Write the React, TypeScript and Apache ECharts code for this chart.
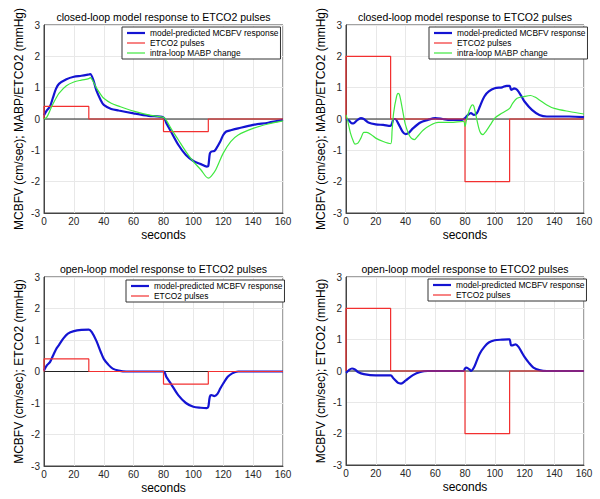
import React, { useEffect, useRef } from "react";
import * as echarts from "echarts";

const xTicks = [0, 20, 40, 60, 80, 100, 120, 140, 160];
const yTicks = [-3, -2, -1, 0, 1, 2, 3];

const titles = [
  "closed-loop model response to ETCO2 pulses",
  "closed-loop model response to ETCO2 pulses",
  "open-loop model response to ETCO2 pulses",
  "open-loop model response to ETCO2 pulses",
];
const yNames = [
  "MCBFV (cm/sec); MABP/ETCO2 (mmHg)",
  "MCBFV (cm/sec); MABP/ETCO2 (mmHg)",
  "MCBFV (cm/sec); ETCO2 (mmHg)",
  "MCBFV (cm/sec); ETCO2 (mmHg)",
];
const xName = "seconds";
const nameBlue = "model-predicted MCBFV response";
const nameRed = "ETCO2 pulses";
const nameGreen = "intra-loop MABP change";

// ETCO2 pulses
const pulseSmall: [number, number][] = [
  [0, 0], [0, 0.4], [30, 0.4], [30, 0], [80, 0], [80, -0.4], [110, -0.4], [110, 0], [160, 0],
];
const pulseLarge: [number, number][] = [
  [0, 0], [0, 2], [30, 2], [30, 0], [80, 0], [80, -2], [110, -2], [110, 0], [160, 0],
];
const zeroLine: [number, number][] = [[0, 0], [160, 0]];

// closed loop, small pulses: MCBFV
const closedSmallMcbfv: [number, number][] = [
  [0, 0.12], [2, 0.28], [4, 0.4], [6, 0.68], [8, 0.96], [10, 1.12], [15, 1.27], [20, 1.35],
  [25, 1.38], [30, 1.42], [31, 1.43], [33, 1.25], [35, 0.92], [38, 0.6], [40, 0.45],
  [45, 0.32], [50, 0.27], [60, 0.18], [70, 0.1], [80, 0.05], [82, -0.14], [85, -0.4],
  [90, -0.83], [95, -1.15], [100, -1.34], [105, -1.44], [109, -1.52], [110, -1.5],
  [111, -1.11], [112, -1.04], [114, -1.02], [115, -0.97], [118, -0.72], [120, -0.51],
  [122, -0.4], [125, -0.36], [130, -0.3], [140, -0.19], [150, -0.12], [160, -0.03],
];
// closed loop, small pulses: MABP
const closedSmallMabp: [number, number][] = [
  [0, 0], [2, 0.07], [5, 0.38], [8, 0.66], [10, 0.82], [15, 1.06], [20, 1.18], [25, 1.24],
  [30, 1.29], [31, 1.32], [33, 1.19], [35, 1.0], [38, 0.78], [40, 0.66], [45, 0.5],
  [50, 0.41], [60, 0.25], [70, 0.13], [80, 0.05], [82, -0.05], [85, -0.3], [90, -0.67],
  [95, -1.04], [100, -1.36], [105, -1.62], [110, -1.89], [112, -1.82], [115, -1.62],
  [120, -1.09], [125, -0.72], [130, -0.51], [140, -0.3], [150, -0.16], [160, -0.06],
];
// closed loop, large pulses: MCBFV
const closedLargeMcbfv: [number, number][] = [
  [0, 0], [2, -0.05], [4, -0.14], [5, -0.14], [7, -0.06], [10, 0.03], [12, 0], [15, -0.11],
  [20, -0.17], [25, -0.19], [30, -0.22], [31, -0.13], [32, 0], [33, 0], [35, -0.13],
  [38, -0.4], [40, -0.48], [42, -0.45], [45, -0.3], [50, -0.11], [55, -0.03], [60, 0.03],
  [65, 0], [70, -0.03], [78, -0.03], [80, 0.03], [82, 0.13], [84, 0.19], [86, 0.13],
  [88, 0.19], [90, 0.4], [93, 0.72], [96, 0.88], [100, 0.98], [105, 1.01], [108, 1.06],
  [110, 1.06], [111, 0.93], [112, 0.95], [113, 0.98], [115, 0.93], [118, 0.72], [120, 0.56],
  [125, 0.29], [130, 0.13], [135, 0.08], [140, 0.08], [150, 0.08], [160, 0.06],
];
// closed loop, large pulses: MABP
const closedLargeMabp: [number, number][] = [
  [0, 0.13], [1, -0.03], [3, -0.45], [5, -0.72], [6, -0.8], [8, -0.77], [10, -0.61],
  [12, -0.43], [14, -0.43], [17, -0.5], [20, -0.61], [25, -0.72], [30, -0.79], [31, -0.35],
  [32, 0.19], [34, 0.72], [35, 0.82], [36, 0.77], [38, 0.29], [40, -0.19], [43, -0.56],
  [46, -0.66], [48, -0.56], [52, -0.35], [57, -0.19], [62, -0.11], [70, -0.11], [79, -0.08],
  [80, -0.24], [81, -0.03], [83, 0.29], [85, 0.45], [86, 0.4], [88, -0.03], [90, -0.4],
  [92, -0.5], [94, -0.4], [97, -0.19], [100, 0.03], [105, 0.19], [110, 0.34], [112, 0.5],
  [115, 0.66], [120, 0.72], [124, 0.75], [127, 0.7], [130, 0.61], [135, 0.45], [140, 0.34],
  [150, 0.24], [160, 0.16],
];
// open loop, small pulses: MCBFV
const openSmallMcbfv: [number, number][] = [
  [0, 0.03], [2, 0.2], [4, 0.3], [6, 0.5], [8, 0.7], [10, 0.84], [13, 1.05], [16, 1.2],
  [20, 1.28], [25, 1.32], [30, 1.33], [32, 1.25], [35, 0.98], [38, 0.62], [40, 0.4],
  [43, 0.22], [46, 0.09], [50, 0.03], [55, 0], [80, 0], [82, -0.18], [85, -0.39],
  [90, -0.76], [95, -1.0], [100, -1.12], [105, -1.15], [109, -1.16], [110, -1.12],
  [111, -0.8], [112, -0.75], [114, -0.78], [116, -0.72], [118, -0.54], [120, -0.38],
  [123, -0.17], [126, -0.06], [130, 0], [160, 0],
];
// open loop, large pulses: MCBFV
const openLargeMcbfv: [number, number][] = [
  [0, -0.06], [2, 0.03], [4, 0.08], [6, 0.05], [8, -0.03], [12, -0.1], [20, -0.14],
  [30, -0.14], [32, -0.24], [35, -0.38], [37, -0.4], [40, -0.31], [45, -0.13], [50, -0.03],
  [55, 0], [79, 0], [80, 0.08], [81, 0.11], [83, 0.05], [84, 0], [86, 0.11], [88, 0.34],
  [90, 0.56], [93, 0.77], [96, 0.91], [100, 0.98], [105, 1.0], [109, 1.01], [110, 1.01],
  [111, 0.82], [112, 0.82], [114, 0.85], [116, 0.77], [118, 0.61], [120, 0.45], [123, 0.26],
  [126, 0.11], [130, 0.03], [135, 0], [160, 0],
];

const FONT = "'Liberation Sans', Arial, Helvetica, sans-serif";
const BLUE = "#1414d2";
const RED = "#f23030";
const GREEN = "#3fe83f";

const grids = [
  { left: 44, top: 25, width: 239, height: 188 },
  { left: 346, top: 25, width: 238, height: 188 },
  { left: 44, top: 277, width: 239, height: 189 },
  { left: 346, top: 277, width: 238, height: 188 },
];
const legendPos = [
  { left: 122, top: 27, names: [nameBlue, nameRed, nameGreen] },
  { left: 429, top: 27, names: [nameBlue, nameRed, nameGreen] },
  { left: 126, top: 280, names: [nameBlue, nameRed] },
  { left: 428, top: 279, names: [nameBlue, nameRed] },
];
const legendIcons: Record<string, string> = {
  [nameBlue]: "path://M0,0H18V2.2H0Z",
  [nameRed]: "path://M0,0H18V1.2H0Z",
  [nameGreen]: "path://M0,0H18V1.2H0Z",
};
const panelData = [
  { blue: closedSmallMcbfv, red: pulseSmall, green: closedSmallMabp },
  { blue: closedLargeMcbfv, red: pulseLarge, green: closedLargeMabp },
  { blue: openSmallMcbfv, red: pulseSmall, green: null },
  { blue: openLargeMcbfv, red: pulseLarge, green: null },
];

export default function App() {
  const ref = useRef<HTMLDivElement>(null);
  useEffect(() => {
    if (!ref.current) return;
    const chart = echarts.init(ref.current, undefined, { renderer: "svg" });
    const series: any[] = [];
    panelData.forEach((p, i) => {
      series.push({
        type: "line", xAxisIndex: i, yAxisIndex: i, data: zeroLine, symbol: "none",
        lineStyle: { color: "#222", width: 1 }, silent: true, z: 1,
      });
      series.push({
        name: nameBlue, type: "line", xAxisIndex: i, yAxisIndex: i, data: p.blue,
        symbol: "none", smooth: 0.3, lineStyle: { color: BLUE, width: 2.2 }, itemStyle: { color: BLUE }, z: 2,
      });
      series.push({
        name: nameRed, type: "line", xAxisIndex: i, yAxisIndex: i, data: p.red,
        symbol: "none", lineStyle: { color: RED, width: 1.2 }, itemStyle: { color: RED }, z: 3,
      });
      if (p.green) {
        series.push({
          name: nameGreen, type: "line", xAxisIndex: i, yAxisIndex: i, data: p.green,
          symbol: "none", smooth: 0.3, lineStyle: { color: GREEN, width: 1.2 }, itemStyle: { color: GREEN }, z: 4,
        });
      }
    });
    const option: any = {
      animation: false,
      backgroundColor: "#ffffff",
      textStyle: { fontFamily: FONT },
      title: titles.map((t, i) => ({
        text: t,
        left: grids[i].left + grids[i].width / 2,
        top: grids[i].top - 14,
        textAlign: "center",
        padding: 0,
        textStyle: { fontSize: 10.5, fontWeight: "normal", color: "#000", fontFamily: FONT },
      })),
      legend: legendPos.map((l) => ({
        left: l.left,
        top: l.top,
        orient: "vertical",
        data: l.names.map((n) => ({ name: n, icon: legendIcons[n] })),
        itemWidth: 18,
        itemHeight: 10,
        itemGap: 0,
        symbolKeepAspect: true,
        padding: [1, 2, 1, 5],
        borderColor: "#333",
        borderWidth: 1,
        backgroundColor: "#fff",
        selectedMode: false,
        textStyle: { fontSize: 8.4, color: "#000", fontFamily: FONT, lineHeight: 10 },
      })),
      grid: grids.map((g) => ({
        ...g,
        show: true,
        borderColor: "#444",
        borderWidth: 1,
        backgroundColor: "#fff",
        containLabel: false,
      })),
      xAxis: grids.map((_, i) => ({
        type: "value",
        gridIndex: i,
        min: xTicks[0],
        max: xTicks[xTicks.length - 1],
        interval: 20,
        name: xName,
        nameLocation: "middle",
        nameGap: 16,
        nameTextStyle: { fontSize: 12, color: "#000", fontFamily: FONT },
        axisLine: { show: true, onZero: false, lineStyle: { color: "#444" } },
        axisTick: { show: false },
        axisLabel: { fontSize: 10, color: "#262626", margin: 3, fontFamily: FONT },
        splitLine: { show: true, lineStyle: { color: "#e8e8e8", width: 1 } },
      })),
      yAxis: grids.map((_, i) => ({
        type: "value",
        gridIndex: i,
        min: yTicks[0],
        max: yTicks[yTicks.length - 1],
        interval: 1,
        name: yNames[i],
        nameLocation: "middle",
        nameGap: 19,
        nameTextStyle: { fontSize: 12, color: "#000", fontFamily: FONT },
        axisLine: { show: true, onZero: false, lineStyle: { color: "#444" } },
        axisTick: { show: false },
        axisLabel: { fontSize: 10, color: "#262626", margin: 4, fontFamily: FONT },
        splitLine: { show: true, lineStyle: { color: "#e8e8e8", width: 1 } },
      })),
      series,
    };
    chart.setOption(option);
    return () => chart.dispose();
  }, []);
  return (
    <div
      ref={ref}
      style={{ position: "fixed", left: 0, top: 0, width: 600, height: 499, background: "#fff" }}
    />
  );
}
